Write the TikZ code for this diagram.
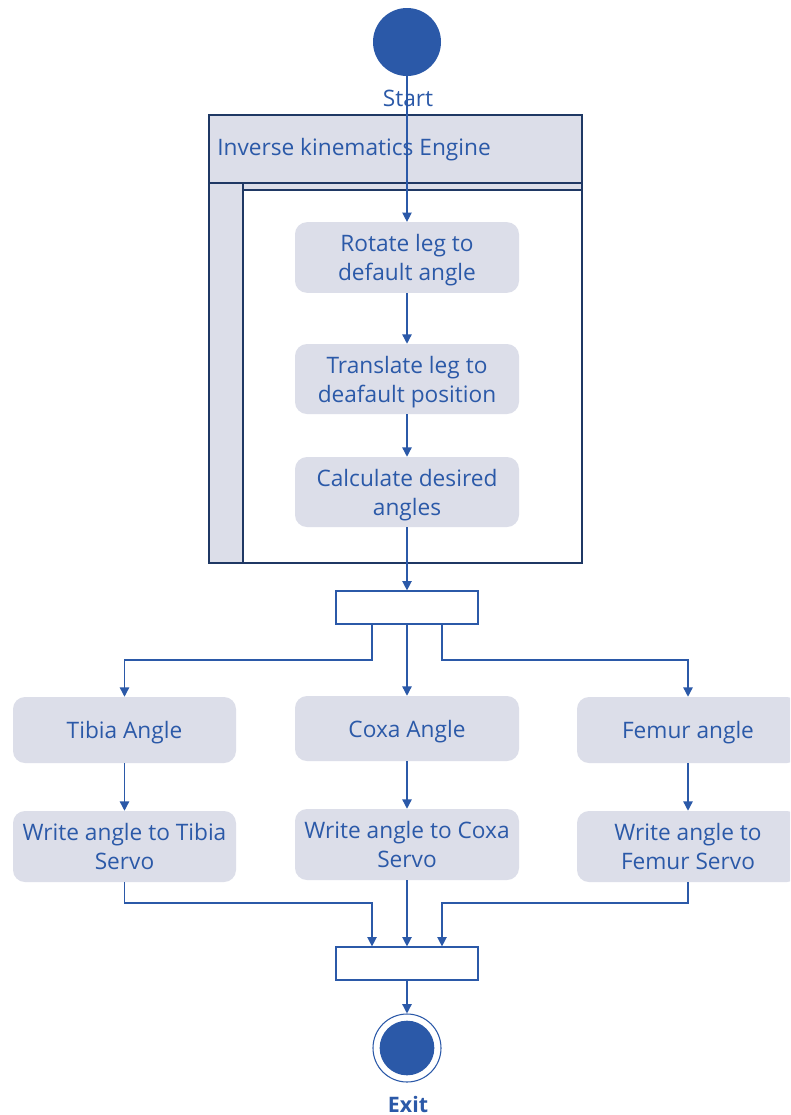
\documentclass[tikz,border=0pt]{standalone}
\usepackage{fontspec}
\setmainfont{Open Sans}
\usetikzlibrary{arrows.meta}
\definecolor{ink}{HTML}{2B59A8}
\definecolor{boxfill}{HTML}{DCDEE9}
\definecolor{lane}{HTML}{1F3864}
\begin{document}
\begin{tikzpicture}[x=0.75pt,y=-0.75pt,
  font=\fontsize{17}{21.75}\selectfont,
  action/.style={draw=none,fill=boxfill,rounded corners=9pt,text=ink,align=center,
    minimum width=168pt,minimum height=53pt,inner sep=2pt,text depth=0pt},
  bar/.style={draw=ink,line width=0.9pt,fill=white,minimum width=106.5pt,minimum height=24.75pt,inner sep=0pt},
  flow/.style={draw=ink,line width=1pt,-{Triangle[length=7pt,width=7pt]}}]
\clip (0,0) rectangle (790,1115);
\fill[white] (0,0) rectangle (790,1115);

% swimlane: header, left band and inner area
\fill[boxfill] (209,115) rectangle (582,190);
\fill[boxfill] (209,190) rectangle (243,563);
\draw[lane,line width=1pt] (209,115) rectangle (582,563);
\draw[lane,line width=1pt] (209,183) -- (582,183);
\draw[lane,line width=1pt] (243,190) -- (582,190);
\draw[lane,line width=1pt] (243,183) -- (243,563);
\node[anchor=west,text=ink,inner sep=0pt] (lanetitle) at (217,150) {Inverse kinematics Engine};

% start
\node[circle,fill=ink,minimum size=51pt,inner sep=0pt] (start) at (407,42) {};
\node[text=ink,inner sep=0pt] (startlbl) at (408,98) {Start};

% actions inside the lane
\node[action] (rotate) at (407,257.5) {Rotate leg to\\default angle};
\node[action,minimum height=52.5pt] (translate) at (407,379) {Translate leg to\\deafault position};
\node[action,minimum height=52.5pt] (calc) at (407,492) {Calculate desired\\angles};

% fork
\node[bar] (fork) at (407,607.5) {};

% angle actions
\node[action,minimum width=167.25pt,minimum height=49.5pt] (tibia) at (124.5,730) {Tibia Angle};
\node[action,minimum height=48.75pt] (coxa) at (407,728.5) {Coxa Angle};
\node[action,minimum width=166.5pt,minimum height=49.5pt] (femur) at (688,730) {Femur angle};

\node[action,minimum width=167.25pt,minimum height=53.25pt] (wtibia) at (124.5,846.5) {Write angle to Tibia\\Servo};
\node[action,minimum height=53.25pt] (wcoxa) at (407,844.5) {Write angle to Coxa\\Servo};
\node[action,minimum width=166.5pt,minimum height=53.25pt] (wfemur) at (688,846.5) {Write angle to\\Femur Servo};

% join
\node[bar] (join) at (407,963.5) {};

% exit
\node[circle,draw=ink,line width=0.8pt,fill=white,minimum size=51pt,inner sep=0pt] (exit) at (407,1048) {};
\node[circle,fill=ink,minimum size=41pt,inner sep=0pt] (exitdot) at (407,1048) {};
\node[text=ink,font=\fontsize{16}{18}\selectfont\bfseries,inner sep=0pt] (exitlbl) at (408,1104) {Exit};

% connectors
\path[flow] (start.south) -- (rotate.north);
\path[flow] (rotate) -- (translate);
\path[flow] (translate) -- (calc);
\path[flow] (calc) -- (fork);
\path[flow] (fork) -- (coxa);
\path[flow] ([xshift=-26.25pt]fork.south) |- (245,660) -| (tibia.north);
\path[flow] ([xshift=26.25pt]fork.south) |- (565,660) -| (femur.north);
\path[flow] (tibia) -- (wtibia);
\path[flow] (coxa) -- (wcoxa);
\path[flow] (femur) -- (wfemur);
\path[flow] (wtibia.south) |- (250,903) -| ([xshift=-26.25pt]join.north);
\path[flow] (wcoxa) -- (join);
\path[flow] (wfemur.south) |- (560,903) -| ([xshift=26.25pt]join.north);
\path[flow] (join) -- (exit);
\end{tikzpicture}
\end{document}
